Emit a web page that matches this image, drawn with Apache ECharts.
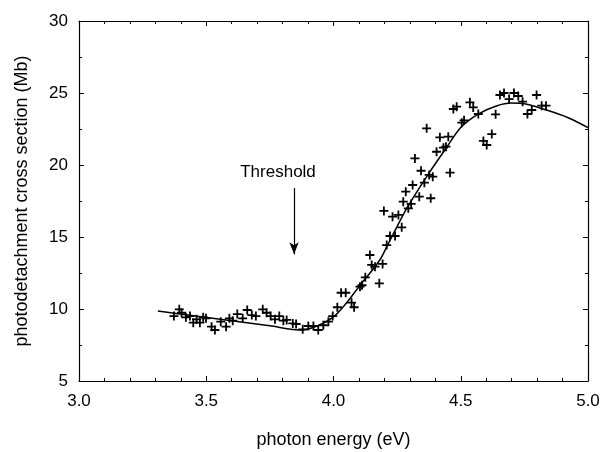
<!DOCTYPE html>
<html>
<head>
<meta charset="utf-8">
<script src="https://cdn.jsdelivr.net/npm/echarts@6/dist/echarts.min.js"></script>
<style>
  html, body { margin: 0; padding: 0; background: #fff; }
  #main { width: 602px; height: 452px; }
</style>
</head>
<body>
<div id="main"></div>
<script>
// measured points (photon energy eV, cross section Mb)
var energy = [3.373,3.394,3.403,3.42,3.436,3.449,3.462,3.475,3.488,3.499,3.521,3.534,3.557,3.578,3.591,3.604,3.622,3.643,3.661,3.679,3.695,3.722,3.737,3.753,3.77,3.787,3.803,3.816,3.84,3.853,3.879,3.901,3.921,3.94,3.96,3.98,3.997,4.015,4.03,4.048,4.071,4.081,4.104,4.112,4.125,4.143,4.15,4.163,4.18,4.193,4.198,4.209,4.222,4.232,4.242,4.255,4.268,4.274,4.284,4.294,4.305,4.311,4.32,4.337,4.344,4.357,4.366,4.376,4.382,4.39,4.405,4.418,4.432,4.442,4.451,4.458,4.471,4.484,4.504,4.513,4.536,4.549,4.569,4.589,4.602,4.622,4.637,4.654,4.67,4.69,4.709,4.726,4.743,4.762,4.779,4.798,4.818,4.835];
var crossSection = [9.51,9.98,9.74,9.42,9.51,9.05,9.28,9.05,9.42,9.35,8.77,8.54,9.12,8.77,9.35,9.19,9.65,9.35,9.93,9.58,9.51,9.98,9.74,9.51,9.28,9.51,9.19,9.24,9.0,8.96,8.59,8.82,8.82,8.54,8.87,9.12,9.51,10.12,11.13,11.13,10.44,10.12,11.55,11.65,12.2,13.75,13.06,12.94,11.78,13.13,16.81,14.44,15.07,16.41,15.07,16.53,15.67,17.45,18.15,16.99,17.3,18.61,20.46,17.8,19.6,18.77,22.55,19.31,17.69,19.19,20.92,21.92,21.2,21.27,21.97,19.47,23.89,24.05,22.94,23.1,24.35,24.0,23.54,21.67,21.39,22.15,23.52,24.86,25.0,24.58,25.0,24.79,24.4,23.54,23.82,24.86,24.12,24.12];

// fitted curve
var fitEnergy = [3.31,3.45,3.6,3.75,3.875,3.94,4.0,4.05,4.1,4.18,4.22,4.29,4.37,4.44,4.5,4.57,4.64,4.7,4.75,4.84,4.92,5.0];
var fitSection = [9.86,9.535,9.185,8.83,8.54,8.85,9.45,10.4,11.55,13.35,14.7,17.05,19.3,21.1,22.6,23.55,24.1,24.3,24.25,23.8,23.3,22.6];

// threshold annotation
var thresholdX = 3.845;
var arrowTop = 18.4, arrowBottom = 13.8;
var thresholdLabel = [3.782, 19.5];

var font = '"Liberation Sans", Arial, Helvetica, sans-serif';

var points = [];
for (var i = 0; i < energy.length; i++) points.push([energy[i], crossSection[i]]);
var fit = [];
for (var j = 0; j < fitEnergy.length; j++) fit.push([fitEnergy[j], fitSection[j]]);

var chart = echarts.init(document.getElementById('main'));

function xAx(pos, labels) {
  return {
    type: 'value', position: pos, min: 3, max: 5, interval: 0.5,
    axisLine: { show: true, onZero: false, lineStyle: { color: '#000', width: 1.2 } },
    axisTick: { show: true, inside: true, length: 5, lineStyle: { color: '#000' } },
    minorTick: { show: true, splitNumber: 5, length: 3, lineStyle: { color: '#000' } },
    splitLine: { show: false },
    axisLabel: {
      show: labels, color: '#000', fontSize: 17, fontFamily: font, margin: 12,
      formatter: function (v) { return v.toFixed(1); }
    },
    name: labels ? 'photon energy (eV)' : '',
    nameLocation: 'middle', nameGap: 50,
    nameTextStyle: { color: '#000', fontSize: 18, fontFamily: font }
  };
}
function yAx(pos, labels) {
  return {
    type: 'value', position: pos, min: 5, max: 30, interval: 5,
    axisLine: { show: true, onZero: false, lineStyle: { color: '#000', width: 1.2 } },
    axisTick: { show: true, inside: true, length: 5, lineStyle: { color: '#000' } },
    minorTick: { show: true, splitNumber: 2, length: 3, lineStyle: { color: '#000' } },
    splitLine: { show: false },
    axisLabel: { show: labels, color: '#000', fontSize: 17, fontFamily: font, margin: 11 },
    name: labels ? 'photodetachment cross section (Mb)' : '',
    nameLocation: 'middle', nameGap: 48,
    nameTextStyle: { color: '#000', fontSize: 18, fontFamily: font }
  };
}

var option = {
  animation: false,
  backgroundColor: '#fff',
  grid: { left: 79, right: 14, top: 21, bottom: 71, outerBoundsMode: 'none', containLabel: false },
  xAxis: [xAx('bottom', true), xAx('top', false)],
  yAxis: [yAx('left', true), yAx('right', false)],
  series: [
    {
      type: 'line', data: fit, smooth: 0.3, showSymbol: false, symbol: 'none',
      lineStyle: { color: '#000', width: 1.5 },
      markLine: {
        silent: true, symbol: ['none', 'arrow'], symbolSize: [7, 12],
        lineStyle: { color: '#000', width: 1.2, type: 'solid' },
        label: { show: false },
        data: [[{ coord: [thresholdX, arrowTop] }, { coord: [thresholdX, arrowBottom] }]]
      },
      markPoint: {
        silent: true, symbol: 'rect', symbolSize: 1,
        itemStyle: { color: 'rgba(0,0,0,0)' },
        label: { show: true, position: 'inside', formatter: 'Threshold', color: '#000', fontSize: 17, fontFamily: font },
        data: [{ coord: thresholdLabel }]
      }
    },
    {
      type: 'scatter', data: points,
      symbol: 'path://M4,0H6V4H10V6H6V10H4V6H0V4H4Z', symbolSize: 9,
      itemStyle: { color: '#000', opacity: 1 }
    }
  ]
};
chart.setOption(option);
</script>
</body>
</html>
